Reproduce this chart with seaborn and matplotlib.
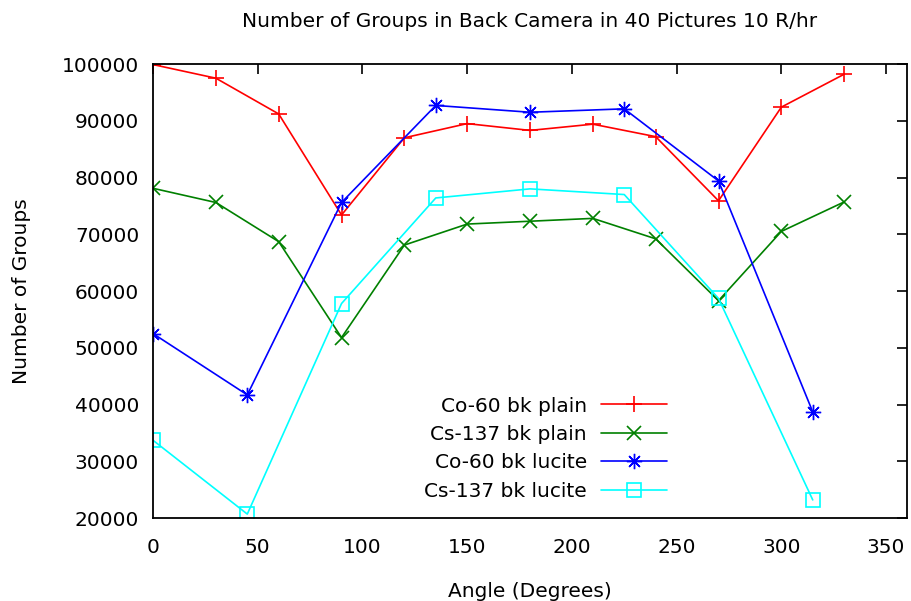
import matplotlib
matplotlib.use("Agg")
import matplotlib.pyplot as plt
import seaborn as sns
import pandas as pd

# Angles (degrees) for the plain and lucite runs
angles_plain = [0, 30, 60, 90, 120, 150, 180, 210, 240, 270, 300, 330]
angles_lucite = [0, 45, 90, 135, 180, 225, 270, 315]

# Number of groups counted in the back camera
co60_plain = [99900, 97500, 91200, 73400, 87000, 89500, 88300, 89400, 87200, 75900, 92400, 98200]
cs137_plain = [78100, 75600, 68700, 51800, 68100, 71800, 72300, 72800, 69200, 58300, 70500, 75700]
co60_lucite = [52500, 41700, 75600, 92700, 91500, 92100, 79400, 38700]
cs137_lucite = [33700, 20700, 57800, 76400, 78000, 77000, 58700, 23200]

series_names = ["Co-60 bk plain", "Cs-137 bk plain", "Co-60 bk lucite", "Cs-137 bk lucite"]
x_ticks = [0, 50, 100, 150, 200, 250, 300, 350]
y_ticks = [20000, 30000, 40000, 50000, 60000, 70000, 80000, 90000, 100000]

sns.set_style("white")
plt.rcParams["font.family"] = ["DejaVu Sans"]
plt.rcParams["text.color"] = "black"
plt.rcParams["axes.labelcolor"] = "black"
FS = 14.5

fig = plt.figure(figsize=(9.11, 6.01), dpi=100)
ax = fig.add_axes([0.168, 0.138, 0.8276, 0.7555])

styles = [
    dict(color="#ff0000", marker="+", markersize=11, mec="#ff0000", mfc="#ff0000", markeredgewidth=1.2),
    dict(color="#008000", marker="x", markersize=10, mec="#008000", mfc="#008000", markeredgewidth=1.2),
    dict(color="#0000ff", marker=(8, 2, 0), markersize=11, mec="#0000ff", mfc="#0000ff", markeredgewidth=1.0),
    dict(color="#00ffff", marker="s", markersize=10.5, mec="#00ffff", mfc="none", markeredgewidth=1.2),
]
data = [
    (angles_plain, co60_plain),
    (angles_plain, cs137_plain),
    (angles_lucite, co60_lucite),
    (angles_lucite, cs137_lucite),
]

for name, (xs, ys), st in zip(series_names, data, styles):
    df = pd.DataFrame({"angle": xs, "groups": ys})
    sns.lineplot(data=df, x="angle", y="groups", ax=ax, label=name,
                 linewidth=1.2, **st)

ax.set_xlim(0, 360)
ax.set_ylim(20000, 100000)
ax.set_xticks(x_ticks)
ax.set_yticks(y_ticks)
ax.tick_params(direction="in", length=7, width=1.2, top=True, right=True,
               labelsize=FS, colors="black")
ax.tick_params(axis="x", pad=14)
ax.tick_params(axis="y", pad=10)
for sp in ax.spines.values():
    sp.set_visible(True)
    sp.set_color("black")
    sp.set_linewidth(1.3)

ax.set_xlabel("Angle (Degrees)", fontsize=FS, labelpad=18, color="black")
ax.set_ylabel("Number of Groups", fontsize=FS, labelpad=22, color="black")
ax.set_title("Number of Groups in Back Camera in 40 Pictures 10 R/hr",
             fontsize=FS, pad=27, color="black")

leg = ax.legend(loc="lower right", bbox_to_anchor=(0.693, 0.02), frameon=False,
                markerfirst=False, fontsize=FS, handlelength=3.3,
                labelspacing=0.47, handletextpad=0.7, borderaxespad=0)
for t in leg.get_texts():
    t.set_color("black")

fig.savefig("out.png", dpi=100)
